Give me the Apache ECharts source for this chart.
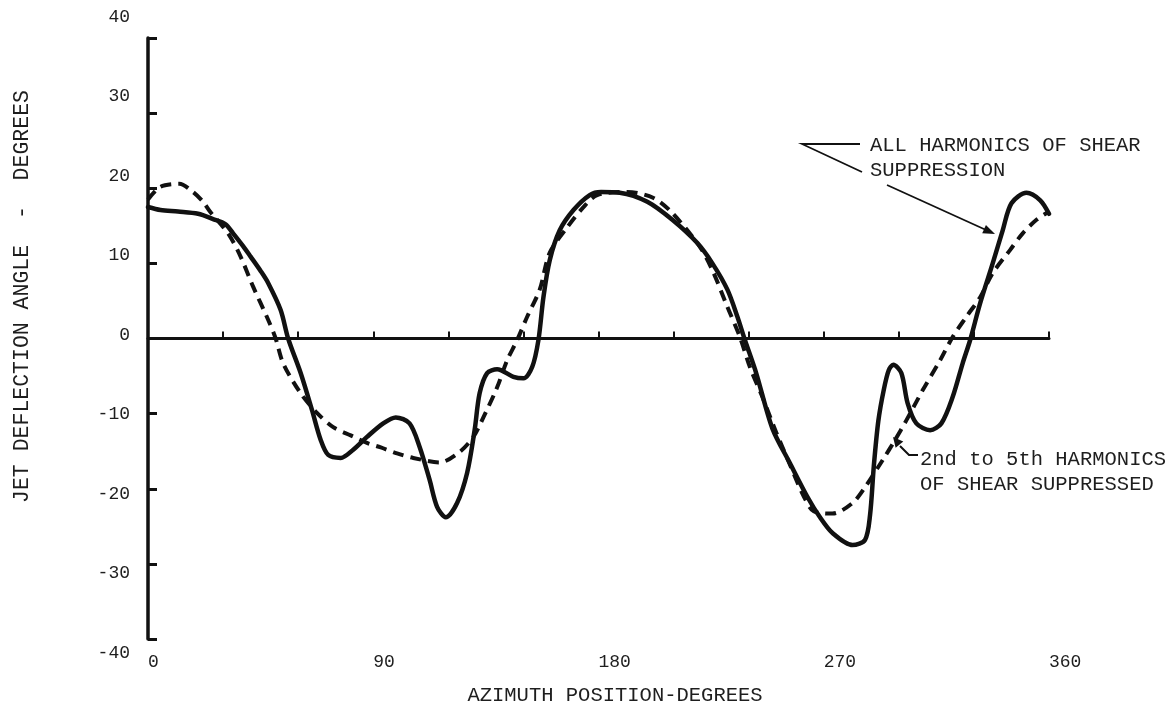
<!DOCTYPE html>
<html>
<head>
<meta charset="utf-8">
<title>Jet deflection angle vs azimuth position</title>
<script src="https://cdn.jsdelivr.net/npm/echarts@6/dist/echarts.min.js"></script>
<style>
  html, body { margin: 0; padding: 0; background: #ffffff; }
  #chart { width: 1176px; height: 712px; }
</style>
</head>
<body>
<div id="chart"></div>
<script>
// Azimuth position (degrees) and jet deflection angle (degrees)
// for the curve with all harmonics of shear suppressed.
const allHarmDeg = [0, 5, 12, 20, 26, 31, 34, 38, 41, 45, 48, 53, 56, 61, 65.5, 69, 72, 77, 82, 87.5,
  94, 99, 104.5, 108.5, 112.5, 115.5, 119, 123.5, 127.5, 130.5, 132.5, 135.5, 139.5, 146, 150, 153.5,
  156, 158, 160.5, 164.5, 170, 176.5, 181, 188.5, 199.5, 209.5, 219.5, 225.5, 231.5, 235.5, 238.5,
  243, 249.5, 256.5, 263.5, 268.5, 273.5, 281.5, 286.5, 288.5, 290, 291.8, 294, 296, 297.8, 301,
  303.5, 307, 312.5, 317, 321.5, 325.5, 328.5, 332.5, 337.5, 341.5, 345, 351, 356.5, 360];
const allHarmVal = [17.5, 17.1, 16.9, 16.6, 15.9, 15.2, 14.0, 12.3, 10.9, 9.0, 7.4, 3.8, 0.0, -4.6, -9.5, -13.5, -15.5, -15.9, -14.8, -13.1,
  -11.3, -10.5, -11.3, -14.4, -18.8, -22.4, -23.8, -21.9, -17.9, -12.2, -7.3, -4.6, -4.1, -5.1, -5.3, -3.8,
  -0.2, 5.5, 10.4, 14.4, 17.1, 19.1, 19.5, 19.4, 18.2, 15.8, 12.7, 10.0, 6.5, 2.9, -0.2,
  -4.6, -12.0, -16.6, -21.1, -23.8, -25.9, -27.5, -26.8, -23.5, -17.0, -11.0, -6.8, -4.2, -3.5, -4.6,
  -8.6, -11.3, -12.2, -11.3, -7.8, -3.3, -0.2, 4.7, 10.0, 14.4, 18.0, 19.4, 18.4, 16.6];

// Same quantities for the curve with only the 2nd to 5th harmonics suppressed.
const lowHarmDeg = [0, 5, 12.5, 18, 22, 25, 32, 37, 42, 48, 51, 54, 61, 67.5, 74, 81, 87.5, 93, 99.5,
  106, 116.5, 124.5, 130, 134, 139.5, 143.5, 147.5, 151.5, 156.5, 160.5, 167.5, 174, 179.5, 191.5,
  202, 209.5, 220.5, 225.5, 231.5, 236.5, 240.5, 245.5, 251, 256.5, 262, 266, 273.5, 281.5, 286.5,
  293.5, 298.5, 303, 309.5, 316.5, 321.5, 327, 332.5, 337.5, 344.5, 349.5, 355, 359.5];
const lowHarmVal = [18.5, 20.2, 20.6, 19.5, 18.2, 16.8, 14.0, 10.9, 6.9, 2.5, 0.0, -3.3, -7.3, -9.9, -11.8, -12.9, -13.9, -14.5, -15.3,
  -15.9, -16.5, -15.1, -13.1, -10.5, -6.5, -2.9, -0.2, 2.9, 6.5, 11.4, 14.8, 17.5, 19.1, 19.5,
  18.7, 16.7, 12.2, 9.1, 4.2, 0.2, -3.8, -7.8, -12.5, -16.8, -21.0, -23.0, -23.3, -21.9, -19.8,
  -16.2, -13.5, -10.9, -6.9, -2.9, 0.2, 2.9, 5.5, 8.7, 11.8, 14.0, 15.8, 16.8];

// Axis ranges and tick steps
const azimuthRange = [0, 360];
const azimuthLabelStep = 90;
const azimuthTickStep = 30;
const angleRange = [-40, 40];
const angleStep = 10;

// Text
const xTitle = 'AZIMUTH POSITION-DEGREES';
const yTitle = 'JET DEFLECTION ANGLE  -  DEGREES';
const noteAll = ['ALL HARMONICS OF SHEAR', 'SUPPRESSION'];
const noteLow = ['2nd to 5th HARMONICS', 'OF SHEAR SUPPRESSED'];

const TYPE_FONT = '"Liberation Mono", "DejaVu Sans Mono", monospace';
const INK = '#111111';
const TEXT = '#1e1e1e';

const pairs = (xs, ys) => xs.map((x, i) => [x, ys[i]]);

// Hand-lettered tick labels drift away from their ticks toward the ends
// of the axis; each label gets a small vertical shift through rich padding.
const yLabelRich = {};
const yLabelKey = v => 'v' + String(v).replace('-', 'm');
for (let v = angleRange[0]; v <= angleRange[1]; v += angleStep) {
  const shift = -3.5 - 0.44 * v;           // px, negative = upward
  const pad = Math.round(Math.abs(shift) * 2);
  yLabelRich[yLabelKey(v)] = {
    fontFamily: TYPE_FONT, fontSize: 18, color: TEXT,
    padding: shift < 0 ? [0, 0, pad, 0] : [pad, 0, 0, 0]
  };
}

// Arrow helper for the annotation leaders
function arrowHead(x1, y1, x2, y2, len, half) {
  const dx = x2 - x1, dy = y2 - y1, d = Math.hypot(dx, dy);
  const ux = dx / d, uy = dy / d, px = -uy, py = ux;
  const bx = x2 - ux * len, by = y2 - uy * len;
  return {
    type: 'polygon',
    shape: { points: [[x2, y2], [bx + px * half, by + py * half], [bx - px * half, by - py * half]] },
    style: { fill: INK }
  };
}

const chart = echarts.init(document.getElementById('chart'), null, { renderer: 'canvas' });

chart.setOption({
  backgroundColor: '#ffffff',
  animation: false,
  grid: { left: 148, top: 38, right: 127, bottom: 73, containLabel: false },
  xAxis: [
    {
      type: 'value', min: azimuthRange[0], max: azimuthRange[1], interval: azimuthLabelStep,
      position: 'bottom',
      axisLine: { show: false, onZero: false },
      axisTick: { show: false },
      splitLine: { show: false },
      axisLabel: { align: 'left', margin: 14, fontFamily: TYPE_FONT, fontSize: 18, color: TEXT },
      name: xTitle, nameLocation: 'middle', nameGap: 46,
      nameTextStyle: { fontFamily: TYPE_FONT, fontSize: 20.5, color: TEXT, padding: [0, 0, 0, 33] }
    },
    {
      type: 'value', min: azimuthRange[0], max: azimuthRange[1], interval: azimuthTickStep,
      position: 'bottom',
      axisLine: { show: true, onZero: true, onZeroAxisIndex: 0, lineStyle: { color: INK, width: 3 } },
      axisTick: { show: true, inside: true, length: 7, lineStyle: { color: INK, width: 2 } },
      axisLabel: { show: false },
      splitLine: { show: false }
    }
  ],
  yAxis: {
    type: 'value', min: angleRange[0], max: angleRange[1], interval: angleStep,
    axisLine: { show: true, onZero: false, lineStyle: { color: INK, width: 3.5 } },
    axisTick: { show: true, inside: true, length: 9, lineStyle: { color: INK, width: 3 } },
    splitLine: { show: false },
    axisLabel: {
      margin: 18,
      formatter: v => '{' + yLabelKey(v) + '|' + v + '}',
      rich: yLabelRich
    }
  },
  series: [
    {
      name: noteAll.join(' '),
      type: 'line', xAxisIndex: 0, yAxisIndex: 0,
      data: pairs(allHarmDeg, allHarmVal),
      smooth: 0.3, symbol: 'none', z: 3,
      lineStyle: { color: INK, width: 4.5, cap: 'round', join: 'round' }
    },
    {
      name: noteLow.join(' '),
      type: 'line', xAxisIndex: 0, yAxisIndex: 0,
      data: pairs(lowHarmDeg, lowHarmVal),
      smooth: 0.3, symbol: 'none', z: 2,
      lineStyle: { color: INK, width: 4, type: [11, 7], cap: 'butt', join: 'round' }
    }
  ],
  graphic: [
    // vertical axis title
    {
      type: 'text', x: 22, y: 296.5, rotation: Math.PI / 2,
      style: { text: yTitle, font: '21.5px ' + TYPE_FONT, fill: TEXT, align: 'center', verticalAlign: 'middle' }
    },
    // note: all harmonics
    {
      type: 'text', x: 870, y: 145.5,
      style: { text: noteAll[0], font: '20.5px ' + TYPE_FONT, fill: TEXT, align: 'left', verticalAlign: 'middle' }
    },
    {
      type: 'text', x: 870, y: 171,
      style: { text: noteAll[1], font: '20.5px ' + TYPE_FONT, fill: TEXT, align: 'left', verticalAlign: 'middle' }
    },
    {
      type: 'polyline', shape: { points: [[860, 144], [802, 144], [862, 172]] },
      style: { stroke: INK, lineWidth: 1.8, fill: null }
    },
    {
      type: 'line', shape: { x1: 887, y1: 185, x2: 985, y2: 229.5 },
      style: { stroke: INK, lineWidth: 1.8 }
    },
    arrowHead(887, 185, 995, 234, 12, 4.5),
    // note: 2nd to 5th harmonics
    {
      type: 'text', x: 920, y: 460,
      style: { text: noteLow[0], font: '20.5px ' + TYPE_FONT, fill: TEXT, align: 'left', verticalAlign: 'middle' }
    },
    {
      type: 'text', x: 920, y: 485,
      style: { text: noteLow[1], font: '20.5px ' + TYPE_FONT, fill: TEXT, align: 'left', verticalAlign: 'middle' }
    },
    {
      type: 'polyline', shape: { points: [[918, 455], [909, 455], [900, 446]] },
      style: { stroke: INK, lineWidth: 2, fill: null }
    },
    arrowHead(904, 450, 893, 437, 10, 5)
  ]
});
</script>
</body>
</html>
